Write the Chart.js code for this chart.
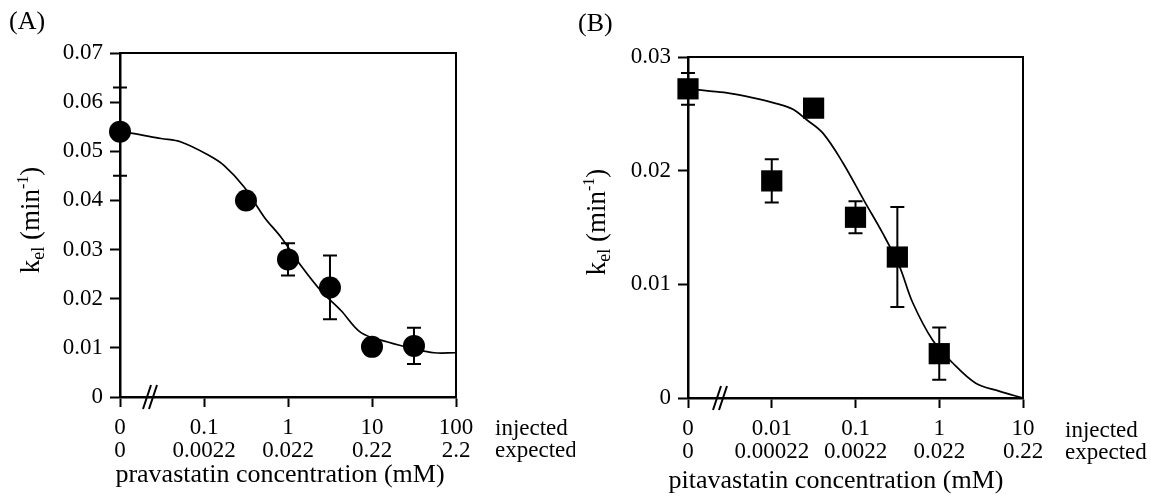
<!DOCTYPE html>
<html><head><meta charset="utf-8">
<script src="https://cdn.jsdelivr.net/npm/chart.js@4"></script>
<style>
html,body{margin:0;padding:0;background:#fff;}
#wrap{position:relative;width:1151px;height:499px;overflow:hidden;background:#fff}
#ca{position:absolute;left:0;top:0}
#cb{position:absolute;left:575px;top:0}
</style></head><body>
<div id="wrap"><canvas id="ca" width="575" height="499"></canvas><canvas id="cb" width="576" height="499"></canvas></div>
<script>
// ---------- Panel A: pravastatin ----------
const pravaConc = [0, 0.316, 1, 3.16, 10, 31.6];            // injected mM (0 = control)
const pravaKel  = [0.0540, 0.0400, 0.0280, 0.0223, 0.0102, 0.0104];
const pravaErr  = [0.0090, 0, 0.0033, 0.0065, 0, 0.0037];
const pravaCurveConc = [0, 0.0135, 0.0308, 0.0532, 0.111, 0.174, 0.302, 0.522, 0.826, 1.43, 2.47, 4.27, 7.39, 15.4, 31.6, 54.7, 100];
const pravaCurveKel  = [0.0540, 0.0537, 0.0526, 0.0519, 0.0493, 0.0471, 0.0427, 0.0366, 0.0325, 0.0267, 0.0216, 0.0176, 0.0131, 0.0112, 0.0098, 0.0090, 0.0090];
const pravaTickConc = [0, 0.1, 1, 10, 100];
const pravaInjectedLabels = ['0', '0.1', '1', '10', '100'];
const pravaExpectedLabels = ['0', '0.0022', '0.022', '0.22', '2.2'];
const pravaZeroAt = 0.01;   // axis break: where "0" sits on the log axis
const pravaYMax = 0.07;

// ---------- Panel B: pitavastatin ----------
const pitaConc = [0, 0.01, 0.0316, 0.1, 0.316, 1];
const pitaKel  = [0.0272, 0.0191, 0.0255, 0.0159, 0.0124, 0.0039];
const pitaErr  = [0.0014, 0.0019, 0, 0.0014, 0.0044, 0.0023];
const pitaCurveConc = [0, 0.00183, 0.00316, 0.0060, 0.0114, 0.0179, 0.0259, 0.0408, 0.0706, 0.128, 0.211, 0.334, 0.481, 0.832, 1.44, 2.73, 5.18, 10];
const pitaCurveKel  = [0.0272, 0.0270, 0.0268, 0.0264, 0.0259, 0.0254, 0.0245, 0.0233, 0.0207, 0.0173, 0.0145, 0.0116, 0.0084, 0.0051, 0.0031, 0.0013, 0.0006, 0];
const pitaTickConc = [0, 0.01, 0.1, 1, 10];
const pitaInjectedLabels = ['0', '0.01', '0.1', '1', '10'];
const pitaExpectedLabels = ['0', '0.00022', '0.0022', '0.022', '0.22'];
const pitaZeroAt = 0.001;
const pitaYMax = 0.03;

const SERIF = "'Liberation Serif', 'Times New Roman', serif";
Chart.defaults.font.family = SERIF;
Chart.defaults.color = '#000';

const errorBars = {
  id: 'errorBars',
  afterDatasetsDraw(chart, args, opts) {
    const meta = chart.getDatasetMeta(0);
    const ys = chart.scales.y, ctx = chart.ctx;
    ctx.save(); ctx.strokeStyle = '#000'; ctx.lineWidth = 2;
    opts.err.forEach((e, i) => {
      if (!e) return;
      const x = meta.data[i].x, v = opts.val[i];
      const yt = ys.getPixelForValue(v + e), yb = ys.getPixelForValue(v - e);
      ctx.beginPath();
      ctx.moveTo(x, yt); ctx.lineTo(x, yb);
      ctx.moveTo(x - opts.cap, yt); ctx.lineTo(x + opts.cap, yt);
      ctx.moveTo(x - opts.cap, yb); ctx.lineTo(x + opts.cap, yb);
      ctx.stroke();
    });
    ctx.restore();
  }
};

function richRotated(ctx, parts, cx, cy) {
  let total = 0;
  parts.forEach(p => { ctx.font = p.size + 'px ' + SERIF; p.w = ctx.measureText(p.t).width; total += p.w; });
  ctx.save(); ctx.translate(cx, cy); ctx.rotate(-Math.PI / 2);
  ctx.textAlign = 'left'; ctx.textBaseline = 'alphabetic'; ctx.fillStyle = '#000';
  let x = -total / 2;
  parts.forEach(p => { ctx.font = p.size + 'px ' + SERIF; ctx.fillText(p.t, x, 8 + p.dy); x += p.w; });
  ctx.restore();
}

const decor = {
  id: 'decor',
  afterDraw(chart, args, o) {
    const ctx = chart.ctx, a = chart.chartArea;
    ctx.save();
    ctx.strokeStyle = '#000'; ctx.lineWidth = 2;
    ctx.beginPath();
    ctx.moveTo(a.left, a.top); ctx.lineTo(a.right, a.top); ctx.lineTo(a.right, a.bottom);
    ctx.stroke();
    // axis break marks
    const bx = a.left + o.breakOffset, by = a.bottom;
    ctx.lineWidth = 2;
    ctx.beginPath();
    for (let k = 0; k < 2; k++) {
      ctx.moveTo(bx - 4 + k * 6, by + 12); ctx.lineTo(bx + 4 + k * 6, by - 12);
    }
    ctx.stroke();
    ctx.fillStyle = '#000';
    // panel label
    ctx.font = '26px ' + SERIF; ctx.textAlign = 'left'; ctx.textBaseline = 'middle';
    ctx.fillText(o.panel, o.panelX, o.panelY);
    // x title
    ctx.textAlign = 'center';
    ctx.fillText(o.xTitle, o.xTitleX, o.xTitleY);
    // injected / expected
    ctx.font = '23px ' + SERIF; ctx.textAlign = 'left';
    ctx.fillText('injected', o.injX, o.line1Y);
    ctx.fillText('expected', o.injX, o.line2Y);
    ctx.restore();
    richRotated(ctx, [
      {t: 'k', size: 27, dy: 0}, {t: 'el', size: 18, dy: 5},
      {t: ' (min', size: 27, dy: 0}, {t: '-1', size: 16, dy: -11}, {t: ')', size: 27, dy: 0}
    ], o.yTitleX, o.yTitleY);
  }
};

function makeChart(id, cfg) {
  const pos = c => c === 0 ? cfg.zeroAt : c;
  const pts = cfg.conc.map((c, i) => ({x: pos(c), y: cfg.kel[i]}));
  const curve = cfg.curveConc.map((c, i) => ({x: pos(c), y: cfg.curveKel[i]}));
  const tickVals = cfg.tickConc.map(pos);
  return new Chart(document.getElementById(id), {
    type: 'scatter',
    data: {
      datasets: [
        {type: 'scatter', data: pts, pointStyle: cfg.marker, pointRadius: cfg.radius, pointHoverRadius: cfg.radius,
         backgroundColor: '#000', borderColor: '#000', borderWidth: 0, clip: false},
        {type: 'line', data: curve, borderColor: '#000', borderWidth: 1.7, pointRadius: 0, fill: false,
         tension: 0.35, clip: false}
      ]
    },
    options: {
      responsive: false, animation: false, devicePixelRatio: 1,
      layout: {padding: {left: 0, top: cfg.top, right: cfg.padRight, bottom: 0}},
      plugins: {
        legend: {display: false}, tooltip: {enabled: false},
        errorBars: {err: cfg.err, val: cfg.kel, cap: 7},
        decor: cfg.decor
      },
      scales: {
        x: {
          type: 'logarithmic', min: tickVals[0], max: tickVals[tickVals.length - 1],
          afterBuildTicks: s => { s.ticks = tickVals.map(v => ({value: v})); },
          ticks: {color: '#000', font: {size: 23, lineHeight: 0.97}, padding: 10, maxRotation: 0, autoSkip: false,
                  callback: (v, i) => [cfg.injLabels[i], cfg.expLabels[i]]},
          grid: {drawOnChartArea: false, drawTicks: true, tickLength: 10, tickColor: '#000', tickWidth: 2},
          border: {display: true, color: '#000', width: 2.5},
          afterFit: s => { s.height = cfg.xHeight; }
        },
        y: {
          type: 'linear', min: 0, max: cfg.yMax,
          ticks: {stepSize: 0.01, color: '#000', font: {size: 23}, padding: 7,
                  callback: v => Math.abs(v) < 1e-9 ? '0' : v.toFixed(2)},
          grid: {drawOnChartArea: false, drawTicks: true, tickLength: 10, tickColor: '#000', tickWidth: 2},
          border: {display: true, color: '#000', width: 2.5},
          afterFit: s => { s.width = cfg.yWidth; }
        }
      }
    },
    plugins: [errorBars, decor]
  });
}

makeChart('ca', {
  conc: pravaConc, kel: pravaKel, err: pravaErr, curveConc: pravaCurveConc, curveKel: pravaCurveKel,
  tickConc: pravaTickConc, injLabels: pravaInjectedLabels, expLabels: pravaExpectedLabels,
  zeroAt: pravaZeroAt, yMax: pravaYMax, marker: 'circle', radius: 11,
  top: 53, padRight: 119, yWidth: 120, xHeight: 102,
  decor: {panel: '(A)', panelX: 9, panelY: 22, breakOffset: 27,
          xTitle: 'pravastatin concentration (mM)', xTitleX: 280, xTitleY: 475,
          injX: 495, line1Y: 429, line2Y: 451, yTitleX: 31, yTitleY: 220}
});
makeChart('cb', {
  conc: pitaConc, kel: pitaKel, err: pitaErr, curveConc: pitaCurveConc, curveKel: pitaCurveKel,
  tickConc: pitaTickConc, injLabels: pitaInjectedLabels, expLabels: pitaExpectedLabels,
  zeroAt: pitaZeroAt, yMax: pitaYMax, marker: 'rect', radius: 15,
  top: 57, padRight: 128, yWidth: 113, xHeight: 101,
  decor: {panel: '(B)', panelX: 3, panelY: 24, breakOffset: 29,
          xTitle: 'pitavastatin concentration (mM)', xTitleX: 261, xTitleY: 481,
          injX: 490, line1Y: 431, line2Y: 453, yTitleX: 22, yTitleY: 222}
});
</script>
</body></html>
